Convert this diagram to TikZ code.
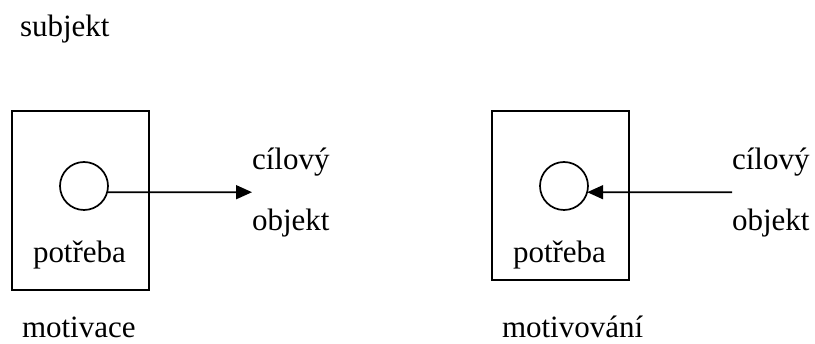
\documentclass[tikz,border=0pt]{standalone}
\usepackage{fontspec}
\setmainfont{Liberation Serif}
\usetikzlibrary{arrows.meta}
\begin{document}
\begin{tikzpicture}[x=1pt,y=-1pt,
  every node/.style={font=\fontsize{31}{37}\selectfont, inner sep=0pt, outer sep=0pt},
  label/.style={anchor=base west},
  frame/.style={draw, line width=1.7pt, anchor=north west, minimum width=137pt},
  need/.style={draw, circle, line width=1.7pt, minimum size=48pt},
  link/.style={line width=1.7pt, -{Triangle[length=16pt,width=14pt]}}]
  \useasboundingbox (0,0) rectangle (815,344);

  \node[label] (subj) at (20,37) {subjekt};

  % motivace
  \node[frame, minimum height=179pt] (box1) at (12,111) {};
  \node[need] (c1) at (84,186) {};
  \node[label] (p1) at (33,263) {potřeba};
  \node[label] (g1) at (252,170) {cílový};
  \node[label] (o1) at (252,231) {objekt};
  \coordinate (t1) at (252,192.2);
  \draw[link] (c1.-15) -- (t1);
  \node[label] (m1) at (22,338) {motivace};

  % motivování
  \node[frame, minimum height=169pt] (box2) at (492,111) {};
  \node[need] (c2) at (564,186) {};
  \node[label] (p2) at (513,263) {potřeba};
  \node[label] (g2) at (732,170) {cílový};
  \node[label] (o2) at (732,231) {objekt};
  \coordinate (s2) at (732,192.2);
  \draw[link] (s2) -- (c2.-15);
  \node[label] (m2) at (502,338) {motivování};
\end{tikzpicture}
\end{document}
